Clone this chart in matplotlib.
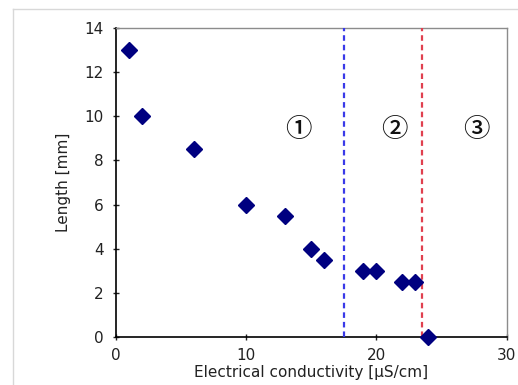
import matplotlib.pyplot as plt
from matplotlib.lines import Line2D

conductivity = [1, 2, 6, 10, 13, 15, 16, 19, 20, 22, 23, 24]
length_mm = [13.0, 10.0, 8.5, 6.0, 5.5, 4.0, 3.5, 3.0, 3.0, 2.5, 2.5, 0.0]
boundaries = [17.5, 23.5]
boundary_colors = ['#3a3ae8', '#e0404f']
region_labels = ['①', '②', '③']
region_x = [14.0, 21.4, 27.7]
region_y = 9.4

plt.rcParams['font.family'] = ['DejaVu Sans', 'Noto Sans CJK JP']

fig = plt.figure(figsize=(5.18, 3.85), dpi=100)
ax = fig.add_axes([0.2234, 0.1255, 0.7546, 0.801])

# outer chart frame (light gray)
fig.add_artist(Line2D([13/518, 1], [1 - 9/385, 1 - 9/385], color='#d8d8d8', lw=1, transform=fig.transFigure))
fig.add_artist(Line2D([13/518, 13/518], [0, 1 - 9/385], color='#d8d8d8', lw=1, transform=fig.transFigure))

ax.plot(conductivity, length_mm, linestyle='none', marker='D', ms=8.5, color='#000080', clip_on=False, zorder=5)

for xb, c in zip(boundaries, boundary_colors):
    ax.axvline(xb, color=c, lw=1.6, linestyle=(0, (2.5, 1.8)), zorder=3)

for lab, xr in zip(region_labels, region_x):
    ax.text(xr, region_y, lab, fontsize=19, ha='center', va='center', color='#111111',
            family=['Noto Sans CJK JP', 'DejaVu Sans'], fontweight='medium')

ax.set_xlim(0, 30)
ax.set_ylim(0, 14)
ax.set_xticks([0, 10, 20, 30])
ax.set_yticks(range(0, 15, 2))

for s in ['left', 'bottom']:
    ax.spines[s].set_color('black')
    ax.spines[s].set_linewidth(1.2)
for s in ['top', 'right']:
    ax.spines[s].set_color('#8c8c8c')
    ax.spines[s].set_linewidth(1.0)

ax.tick_params(direction='inout', length=5, width=1, labelsize=11, colors='#222222', pad=6)
ax.tick_params(top=False, right=False)

ax.set_xlabel('Electrical conductivity [μS/cm]', fontsize=11, labelpad=1, color='#222222')
ax.set_ylabel('Length [mm]', fontsize=11, labelpad=10, color='#222222')

fig.savefig('out.png', dpi=100)
